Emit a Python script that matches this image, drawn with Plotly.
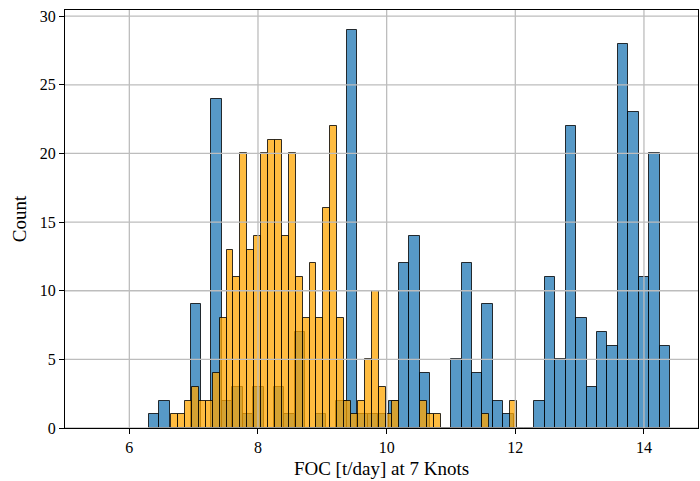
import plotly.graph_objects as go

# Blue series: 50 bins
blue_start = 6.304
blue_width = 0.162
blue_counts = [1, 2, 0, 0, 9, 0, 24, 2, 3, 1,
               3, 0, 3, 1, 7, 0, 1, 0, 2, 29,
               1, 1, 1, 2, 12, 14, 4, 0, 0, 5,
               12, 4, 9, 2, 1, 0, 0, 2, 11, 5,
               22, 8, 3, 7, 6, 28, 23, 11, 20, 6]

# Orange series: 50 bins
orange_start = 6.652
orange_width = 0.10744
orange_counts = [1, 1, 2, 3, 2, 2, 4, 8, 13, 11,
                 20, 13, 14, 20, 21, 21, 14, 20, 11, 8,
                 12, 8, 16, 22, 8, 2, 1, 2, 5, 10,
                 3, 1, 2, 0, 0, 0, 2, 1, 1, 0,
                 0, 0, 0, 0, 0, 1, 0, 0, 0, 2]

x_ticks = [6, 8, 10, 12, 14]
y_ticks = [0, 5, 10, 15, 20, 25, 30]
x_title = "FOC [t/day] at 7 Knots"
y_title = "Count"

def centers(start, width, n):
    return [start + width * (i + 0.5) for i in range(n)]

fig = go.Figure()
fig.add_trace(go.Bar(
    x=centers(blue_start, blue_width, len(blue_counts)), y=blue_counts,
    width=blue_width,
    marker=dict(color="rgba(31,119,180,0.75)",
                line=dict(color="rgba(0,0,0,0.8)", width=1)),
    showlegend=False))
fig.add_trace(go.Bar(
    x=centers(orange_start, orange_width, len(orange_counts)), y=orange_counts,
    width=orange_width,
    marker=dict(color="rgba(255,165,0,0.75)",
                line=dict(color="rgba(0,0,0,0.8)", width=1)),
    showlegend=False))

grid_color = "#bdbdbd"
for t in x_ticks:
    fig.add_shape(type="line", xref="x", yref="paper", x0=t, x1=t, y0=0, y1=1,
                  line=dict(color=grid_color, width=1.3), layer="above")
for t in y_ticks:
    fig.add_shape(type="line", xref="paper", yref="y", x0=0, x1=1, y0=t, y1=t,
                  line=dict(color=grid_color, width=1.3), layer="above")

font = dict(family="Liberation Serif, Times New Roman, serif", size=16, color="black")
fig.update_layout(
    width=700, height=481,
    margin=dict(l=65, r=2, t=10, b=53),
    plot_bgcolor="white", paper_bgcolor="white",
    barmode="overlay", bargap=0,
    font=font,
)
fig.update_xaxes(range=[5, 14.84], tickvals=x_ticks, showgrid=False,
                 ticks="outside", ticklen=5, tickwidth=1, tickcolor="black",
                 showline=True, linecolor="black", linewidth=1, mirror=True,
                 zeroline=False, title=dict(text=x_title, standoff=6),
                 tickfont=font)
fig.update_yaxes(range=[0, 30.45], tickvals=y_ticks, showgrid=False,
                 ticks="outside", ticklen=5, tickwidth=1, tickcolor="black",
                 showline=True, linecolor="black", linewidth=1, mirror=True,
                 zeroline=False, title=dict(text=y_title, standoff=8),
                 tickfont=font)

fig.write_html("out.html")
